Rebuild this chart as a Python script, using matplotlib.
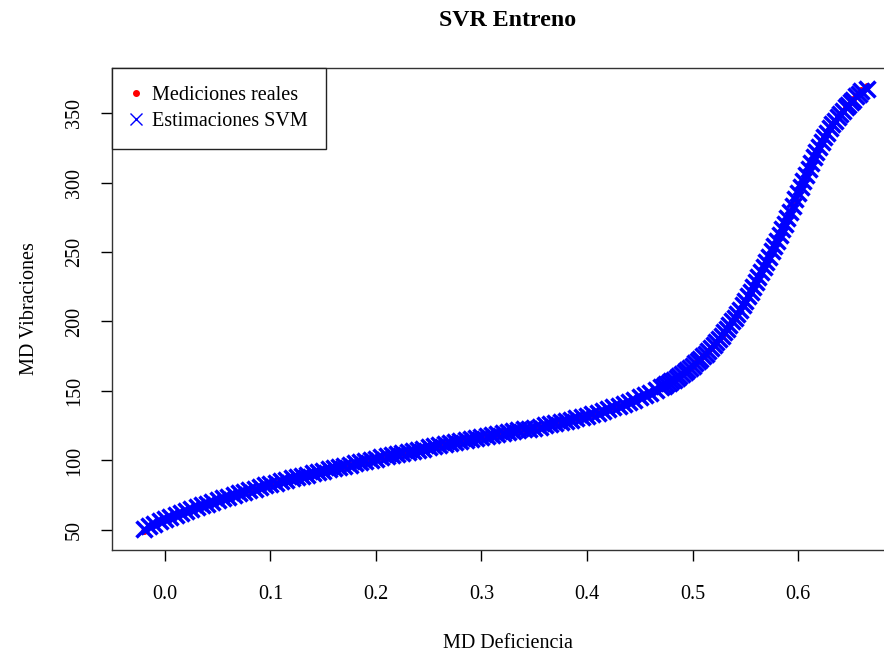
import matplotlib
matplotlib.use("Agg")
import matplotlib.pyplot as plt

plt.rcParams['font.family'] = ['Liberation Serif', 'DejaVu Serif']

# MD Deficiencia (x) and MD Vibraciones (y)
md_deficiencia = [
    -0.020, -0.015, -0.010, -0.005, 0.000, 0.005, 0.010, 0.015, 0.020, 0.025,
    0.030, 0.035, 0.040, 0.045, 0.050, 0.055, 0.060, 0.065, 0.070, 0.075,
    0.080, 0.085, 0.090, 0.095, 0.100, 0.105, 0.110, 0.115, 0.120, 0.125,
    0.130, 0.135, 0.140, 0.145, 0.150, 0.155, 0.160, 0.165, 0.170, 0.175,
    0.180, 0.185, 0.190, 0.195, 0.200, 0.205, 0.210, 0.215, 0.220, 0.225,
    0.230, 0.235, 0.240, 0.245, 0.250, 0.255, 0.260, 0.265, 0.270, 0.275,
    0.280, 0.285, 0.290, 0.295, 0.300, 0.305, 0.310, 0.315, 0.320, 0.325,
    0.330, 0.335, 0.340, 0.345, 0.350, 0.355, 0.360, 0.365, 0.370, 0.375,
    0.380, 0.385, 0.390, 0.395, 0.400, 0.405, 0.410, 0.415, 0.420, 0.425,
    0.430, 0.435, 0.440, 0.445, 0.450, 0.455, 0.460, 0.465, 0.470, 0.475,
    0.480, 0.485, 0.490, 0.495, 0.500, 0.505, 0.510, 0.515, 0.520, 0.525,
    0.530, 0.535, 0.540, 0.545, 0.550, 0.555, 0.560, 0.565, 0.570, 0.575,
    0.580, 0.585, 0.590, 0.595, 0.600, 0.605, 0.610, 0.615, 0.620, 0.625,
    0.630, 0.635, 0.640, 0.645, 0.650, 0.655, 0.660, 0.665,
]

mediciones_reales = [
    49.5, 52.6, 54.5, 56.3, 58.0, 59.4, 60.8, 62.2, 63.6, 65.0,
    66.4, 67.7, 69.0, 70.3, 71.5, 72.8, 74.0, 75.2, 76.4, 77.5,
    78.7, 79.8, 81.0, 82.0, 83.0, 84.1, 85.1, 86.1, 87.1, 88.0,
    89.0, 89.9, 90.8, 91.8, 92.7, 93.6, 94.5, 95.3, 96.2, 97.1,
    97.9, 98.8, 99.7, 100.5, 101.4, 102.2, 103.0, 103.8, 104.6, 105.4,
    106.2, 107.0, 107.8, 108.6, 109.4, 110.1, 110.8, 111.6, 112.3, 113.0,
    113.8, 114.5, 115.2, 115.9, 116.7, 117.4, 118.1, 118.8, 119.5, 120.2,
    120.9, 121.6, 122.3, 123.0, 123.7, 124.4, 125.2, 126.0, 126.8, 127.6,
    128.5, 129.4, 130.3, 131.3, 132.3, 133.4, 134.5, 135.7, 136.9, 138.2,
    139.5, 140.9, 142.3, 143.8, 145.4, 147.0, 148.8, 150.7, 152.6, 154.7,
    157.0, 159.5, 162.2, 165.1, 168.2, 171.5, 175.0, 178.8, 183.0, 187.5,
    192.3, 197.4, 202.8, 208.6, 214.8, 221.4, 228.2, 235.5, 242.8, 250.4,
    258.2, 266.2, 274.6, 283.4, 292.3, 301.3, 310.0, 318.2, 325.8, 332.7,
    339.0, 344.6, 349.6, 354.0, 358.0, 362.5, 366.5, 369.5,
]

estimaciones_svm = [
    50.5, 52.8, 54.6, 56.3, 58.0, 59.4, 60.8, 62.2, 63.6, 65.0,
    66.4, 67.7, 69.0, 70.3, 71.5, 72.8, 74.0, 75.2, 76.4, 77.5,
    78.7, 79.8, 81.0, 82.0, 83.0, 84.1, 85.1, 86.1, 87.1, 88.0,
    89.0, 89.9, 90.8, 91.8, 92.7, 93.6, 94.5, 95.3, 96.2, 97.1,
    97.9, 98.8, 99.7, 100.5, 101.4, 102.2, 103.0, 103.8, 104.6, 105.4,
    106.2, 107.0, 107.8, 108.6, 109.4, 110.1, 110.8, 111.6, 112.3, 113.0,
    113.8, 114.5, 115.2, 115.9, 116.7, 117.4, 118.1, 118.8, 119.5, 120.2,
    120.9, 121.6, 122.3, 123.0, 123.7, 124.4, 125.2, 126.0, 126.8, 127.6,
    128.5, 129.4, 130.3, 131.3, 132.3, 133.4, 134.5, 135.7, 136.9, 138.2,
    139.5, 140.9, 142.3, 143.8, 145.4, 147.0, 148.8, 150.7, 152.6, 154.7,
    157.0, 159.5, 162.2, 165.1, 168.2, 171.5, 175.0, 178.8, 183.0, 187.5,
    192.3, 197.4, 202.8, 208.6, 214.8, 221.4, 228.2, 235.5, 242.8, 250.4,
    258.2, 266.2, 274.6, 283.4, 292.3, 301.3, 310.0, 318.2, 325.8, 332.7,
    339.0, 344.6, 349.6, 354.0, 358.0, 362.0, 365.5, 367.5,
]

# extra samples on the steep part of the curve (denser there in the reference)
md_deficiencia_b = [
    0.4725, 0.4775, 0.4825, 0.4875, 0.4925, 0.4975, 0.5025, 0.5075, 0.5125, 0.5175,
    0.5225, 0.5275, 0.5325, 0.5375, 0.5425, 0.5475, 0.5525, 0.5575, 0.5625, 0.5675,
    0.5725, 0.5775, 0.5825, 0.5875, 0.5925, 0.5975, 0.6025, 0.6075, 0.6125, 0.6175,
    0.6225, 0.6275, 0.6325, 0.6375, 0.6425, 0.6475, 0.6525, 0.6575,
]

mediciones_reales_b = [
    153.6, 155.8, 158.2, 160.8, 163.6, 166.6, 169.8, 173.2, 176.9, 180.9,
    185.2, 189.9, 194.8, 200.1, 205.7, 211.7, 218.1, 224.8, 231.8, 239.1,
    246.6, 254.3, 262.2, 270.4, 279.0, 287.8, 296.8, 305.7, 314.1, 322.0,
    329.3, 335.9, 341.8, 347.1, 351.8, 356.0, 360.2, 364.5,
]

estimaciones_svm_b = [
    153.6, 155.8, 158.2, 160.8, 163.6, 166.6, 169.8, 173.2, 176.9, 180.9,
    185.2, 189.9, 194.8, 200.1, 205.7, 211.7, 218.1, 224.8, 231.8, 239.1,
    246.6, 254.3, 262.2, 270.4, 279.0, 287.8, 296.8, 305.7, 314.1, 322.0,
    329.3, 335.9, 341.8, 347.1, 351.6, 355.6, 359.6, 363.5,
]

x_ticks = [0.0, 0.1, 0.2, 0.3, 0.4, 0.5, 0.6]
y_ticks = [50, 100, 150, 200, 250, 300, 350]

x_all = md_deficiencia + md_deficiencia_b
real_all = mediciones_reales + mediciones_reales_b
svm_all = estimaciones_svm + estimaciones_svm_b

fig = plt.figure(figsize=(8.84, 6.57), dpi=100)
# plot region runs past the right edge of the image (cropped R device)
ax = fig.add_axes([0.1267, 0.1629, 0.896, 0.7336])

# real measurements first, SVM estimates on top
ax.plot(x_all, real_all, linestyle='none', marker='o',
        markersize=4, color='red', label='Mediciones reales')
ax.plot(x_all, svm_all, linestyle='none', marker='x',
        markersize=11, markeredgewidth=2.5, color='blue', label='Estimaciones SVM')

ax.set_xlim(-0.0502, 0.7005)
ax.set_ylim(35.6, 382.4)
ax.set_xticks(x_ticks)
ax.set_xticklabels(['%.1f' % t for t in x_ticks])
ax.set_yticks(y_ticks)
ax.set_yticklabels([str(t) for t in y_ticks], rotation=90, va='center')

ax.tick_params(direction='out', length=8, width=1, labelsize=14.5, colors='black')
ax.tick_params(axis='x', pad=17)
ax.tick_params(axis='y', pad=12)
for s in ax.spines.values():
    s.set_color('#333333')
    s.set_linewidth(1)

ax.set_xlabel('MD Deficiencia', fontsize=14.5, labelpad=22)
ax.set_ylabel('MD Vibraciones', fontsize=14.5, labelpad=19)
ax.set_title('SVR Entreno', fontsize=17.2, fontweight='bold', pad=30)

leg = ax.legend(loc='upper left', fontsize=14.5, fancybox=False, framealpha=1,
                edgecolor='#222222', borderaxespad=0, handlelength=0.6,
                handletextpad=0.5, borderpad=0.9, labelspacing=0.35)
leg.get_frame().set_linewidth(1)
leg.legend_handles[1].set_markersize(8)
leg.legend_handles[1].set_markeredgewidth(1.0)

fig.savefig('out.png', dpi=100)
